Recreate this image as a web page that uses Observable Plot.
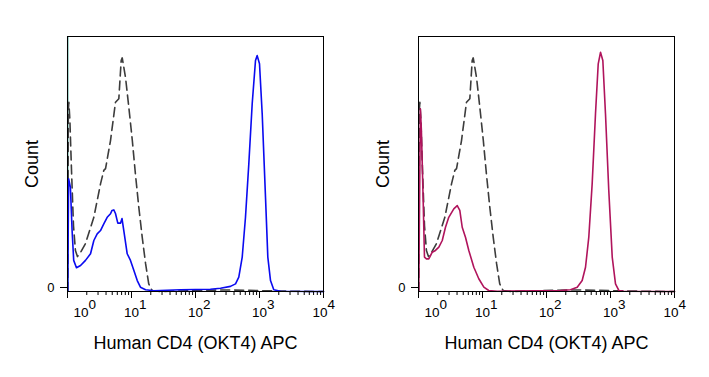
<!DOCTYPE html>
<html>
<head>
<meta charset="utf-8">
<script src="https://cdn.jsdelivr.net/npm/d3@7"></script>
<script src="https://cdn.jsdelivr.net/npm/@observablehq/plot@0.6"></script>
<style>
  html, body { margin: 0; padding: 0; background: #fff; }
  #chart { display: flex; flex-direction: row; width: 709px; height: 377px; }
  svg { font-family: "Liberation Sans", Arial, sans-serif; }
</style>
</head>
<body>
<div id="chart"></div>
<script>
// ---- axis ticks ----
const decadeTicks = [1, 10, 100, 1000, 10000];
const tickExponents = ["0", "1", "2", "3", "4"];
const xTitle = "Human CD4 (OKT4) APC";
const yTitle = "Count";

// ---- isotype control (dashed, same in both panels) ----
const isoX = [1.01, 1.03, 1.05, 1.09, 1.155, 1.24, 1.33, 1.43, 1.60, 1.91, 2.58, 3.28, 3.69, 3.93, 4.70, 5.62, 6.34, 6.90, 7.16, 8.06, 9.08, 10.3, 11.5, 13.0, 14.7, 16.6, 18.6, 21.0, 28.4, 50, 150, 300, 600, 1200, 3000, 10000];
const isoY = [0, 71.0, 74.2, 67.1, 47.5, 25.9, 16.1, 13.7, 15.3, 18.8, 29.1, 42.2, 47.5, 48.2, 59.2, 74.2, 75.6, 90.6, 91.6, 84.0, 72.3, 59.2, 46.2, 33.1, 21.3, 10.9, 3.0, 0.4, 0, 0.2, 0.5, 0.6, 0.5, 0.3, 0.1, 0];

// ---- left panel: CD4 stained (blue) ----
const blueX = [1.01, 1.04, 1.11, 1.18, 1.25, 1.38, 1.60, 1.91, 2.29, 2.58, 2.91, 3.28, 3.69, 4.17, 4.70, 4.96, 5.29, 5.62, 6.11, 6.73, 7.11, 7.58, 8.57, 9.64, 10.9, 12.3, 13.8, 16.6, 22.3, 58.3, 171, 246, 352, 422, 475, 537, 604, 681, 769, 866, 920, 1000, 1102, 1241, 1349, 1486, 1672, 2128, 10000];
const blueY = [0, 44.2, 40.9, 23.9, 12.2, 9.3, 10.2, 12.2, 14.8, 20.0, 22.6, 23.9, 26.5, 29.1, 30.5, 31.8, 32.0, 30.6, 26.8, 26.8, 28.6, 23.9, 14.8, 12.2, 8.2, 4.3, 1.7, 0.7, 0.3, 0.7, 0.9, 1.3, 2.0, 3.0, 5.6, 13.5, 29.1, 50.1, 73.6, 90.6, 92.5, 89.3, 69.7, 37.0, 13.5, 4.3, 0.7, 0.1, 0];

// ---- right panel: CD4 stained (crimson) ----
const redX = [1.01, 1.07, 1.11, 1.18, 1.24, 1.33, 1.45, 1.64, 1.84, 2.08, 2.35, 2.64, 2.97, 3.56, 4.03, 4.42, 4.82, 5.42, 6.11, 7.32, 8.75, 10.5, 12.5, 17.0, 166, 237, 302, 361, 407, 458, 517, 583, 643, 698, 759, 835, 940, 1064, 1197, 1349, 1614, 10000];
const redY = [0, 71.6, 63.1, 37.0, 13.5, 12.8, 12.8, 15.4, 16.1, 17.4, 20.0, 25.2, 29.1, 32.4, 33.7, 31.8, 25.2, 21.3, 16.1, 9.5, 5.0, 1.7, 0.4, 0.1, 0.4, 0.7, 1.7, 4.3, 9.5, 21.3, 42.2, 69.7, 89.3, 93.8, 90.6, 69.7, 39.6, 13.5, 3.0, 0.4, 0.1, 0];

const edgeEventsX = [1.015]; // faint events piled on the left edge (left panel)

const toRows = (xs, ys) => xs.map((x, i) => ({x, y: ys[i]}));
const iso = toRows(isoX, isoY);
const blue = toRows(blueX, blueY);
const red = toRows(redX, redY);
const minorTicks = decadeTicks.slice(0, -1).flatMap(d => [2,3,4,5,6,7,8,9].map(k => k * d));

function panel(rows, color, showEdge) {
  const n = decadeTicks.length;
  const svg = Plot.plot({
    width: 351,
    height: 377,
    marginLeft: 67,
    marginRight: 28,
    marginTop: 36,
    marginBottom: 86,
    style: {fontFamily: '"Liberation Sans", Arial, sans-serif', background: "#fff", color: "#000"},
    x: {type: "log", domain: [1, 10000]},
    y: {domain: [0, 100]},
    marks: [
      showEdge ? Plot.ruleX(edgeEventsX, {stroke: "#9fd0c8", strokeWidth: 2}) : null,
      Plot.line(iso, {x: "x", y: "y", stroke: "#3c3c3c", strokeWidth: 1.6, strokeDasharray: "9,5"}),
      Plot.line(rows, {x: "x", y: "y", stroke: color, strokeWidth: 1.6}),
      Plot.frame({stroke: "#000", strokeWidth: 1}),
      Plot.axisX(minorTicks, {tickSize: 4, text: null, label: null}),
      Plot.axisX(decadeTicks, {tickSize: 7, text: null, label: xTitle, labelAnchor: "center", labelOffset: 57}),
      Plot.text(decadeTicks, {
        x: d => d, frameAnchor: "bottom", text: () => "10",
        textAnchor: "start", lineAnchor: "middle", fontSize: 13.5, fill: "#000",
        dy: 21
      }),
      Plot.axisY([0], {tickSize: 7, tickPadding: 6, tickFormat: () => "0", fontSize: 13, dy: -4,
        label: yTitle, labelAnchor: "center", labelOffset: 42})
    ]
  });
  const sel = d3.select(svg);
  // tick labels: "10" centred on the tick, exponent raised after it
  sel.selectAll('g[aria-label="text"] text').each(function(_, i) {
    const t = d3.select(this);
    const shift = i === 0 ? 6 : (i === n - 1 ? -11 : -7.5);
    const x0 = +t.attr("x") || 0;
    if (t.attr("x") != null) t.attr("x", x0 + shift);
    else t.attr("transform", (t.attr("transform") || "") + ` translate(${shift},0)`);
    t.append("tspan").attr("dy", "-0.6em").text(tickExponents[i]);
  });
  sel.selectAll('g[aria-label="x-axis label"] text').text(xTitle).attr("font-size", 18).attr("fill", "#000");
  sel.selectAll('g[aria-label="y-axis label"] text').text(yTitle).attr("font-size", 18).attr("fill", "#000");
  return svg;
}

const root = document.getElementById("chart");
root.appendChild(panel(blue, "#0a0af0", true));
root.appendChild(panel(red, "#b0145c", false));
</script>
</body>
</html>
